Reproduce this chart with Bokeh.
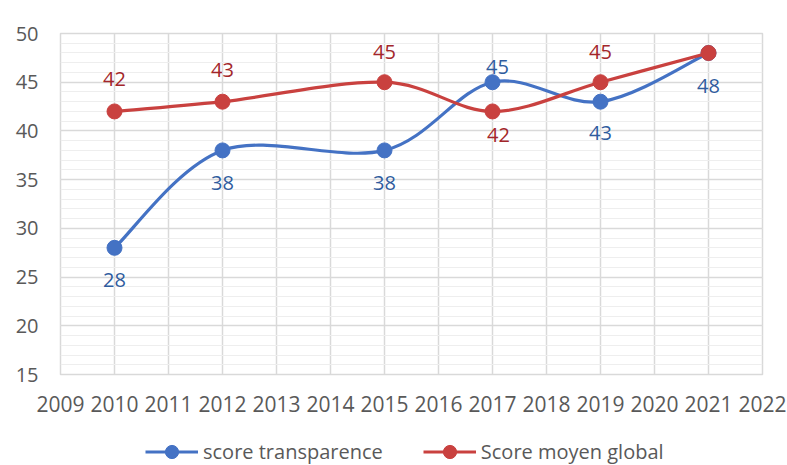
import numpy as np
from bokeh.plotting import figure
from bokeh.layouts import column
from bokeh.models import (ColumnDataSource, Range1d, SingleIntervalTicker, Legend, LegendItem)
from bokeh.core.properties import value
from bokeh.embed import file_html
from bokeh.resources import INLINE

# ---- data ----
years = [2010, 2012, 2015, 2017, 2019, 2021]
score_transparence = [28, 38, 38, 45, 43, 48]
score_moyen_global = [42, 43, 45, 42, 45, 48]
series_names = ["score transparence", "Score moyen global"]

# label placement (screen px, positive = down)
blue_label_dy = [32, 33, 33, -15, 31, 33]
blue_label_dx = [0, 0, 0, 5, 0, 0]
red_label_dy = [-32, -32, -30, 24, -30, -30]
red_label_dx = [0, 0, 0, 6, 0, 0]

FONT = "Open Sans"
AXIS_COL = "#595959"
GRID_COL = "#D9D9D9"
MINOR_COL = "#EEEEEE"
BLUE = "#4472C4"
RED = "#C9413F"
BLUE_TXT = "#2F5C9E"
RED_TXT = "#A3262A"

p = figure(width=787, height=437, output_backend="svg", toolbar_location=None,
           x_range=Range1d(2009, 2022), y_range=Range1d(15, 50),
           min_border_left=60, min_border_right=25, min_border_top=33, min_border_bottom=63)
p.outline_line_color = GRID_COL
p.outline_line_width = 1.5
p.background_fill_color = "white"
p.border_fill_color = "white"

p.xaxis.ticker = SingleIntervalTicker(interval=1, num_minor_ticks=0)
p.yaxis.ticker = SingleIntervalTicker(interval=5, num_minor_ticks=5)
for ax in (p.xaxis, p.yaxis):
    ax.axis_line_color = None
    ax.major_tick_line_color = None
    ax.minor_tick_line_color = None
    ax.major_tick_out = 0
    ax.minor_tick_out = 0
    ax.major_label_text_color = AXIS_COL
    ax.major_label_text_font = FONT
p.xaxis.major_label_text_font_size = "21px"
p.yaxis.major_label_text_font_size = "20px"
p.xaxis.major_label_standoff = 21
p.yaxis.major_label_standoff = 22

p.xgrid.grid_line_color = GRID_COL
p.xgrid.grid_line_width = 1.5
p.ygrid.grid_line_color = GRID_COL
p.ygrid.grid_line_width = 1.5
p.ygrid.minor_grid_line_color = MINOR_COL
p.ygrid.minor_grid_line_width = 1.2


def smooth_segments(xs, ys):
    xs = np.asarray(xs, float)
    ys = np.asarray(ys, float)
    n = len(xs)
    d = dict(x0=[], y0=[], x1=[], y1=[], cx0=[], cy0=[], cx1=[], cy1=[])
    for i in range(n - 1):
        im = max(i - 1, 0)
        ip2 = min(i + 2, n - 1)
        d["x0"].append(xs[i]); d["y0"].append(ys[i])
        d["x1"].append(xs[i + 1]); d["y1"].append(ys[i + 1])
        d["cx0"].append(xs[i] + (xs[i + 1] - xs[im]) / 6)
        d["cy0"].append(ys[i] + (ys[i + 1] - ys[im]) / 6)
        d["cx1"].append(xs[i + 1] - (xs[ip2] - xs[i]) / 6)
        d["cy1"].append(ys[i + 1] - (ys[ip2] - ys[i]) / 6)
    return ColumnDataSource(d)


# legend strip (separate small figure below the chart; its ranges keep the
# proxy renderers out of view so that only the legend is seen)
p2 = figure(width=787, height=28, output_backend="svg", toolbar_location=None,
            x_range=Range1d(0, 1), y_range=Range1d(0, 1),
            x_axis_type=None, y_axis_type=None,
            min_border_left=0, min_border_right=0, min_border_top=0, min_border_bottom=0)
p2.outline_line_color = None
p2.grid.visible = False
p2.background_fill_color = "white"
p2.border_fill_color = "white"

items = []
for vals, col, tcol, dy, dx, name in [
    (score_transparence, BLUE, BLUE_TXT, blue_label_dy, blue_label_dx, series_names[0]),
    (score_moyen_global, RED, RED_TXT, red_label_dy, red_label_dx, series_names[1]),
]:
    seg = smooth_segments(years, vals)
    p.bezier(x0="x0", y0="y0", x1="x1", y1="y1", cx0="cx0", cy0="cy0",
             cx1="cx1", cy1="cy1", source=seg, line_color=col, line_width=3.2)
    src = ColumnDataSource(dict(x=years, y=vals, lab=[str(v) for v in vals], dy=dy, dx=dx))
    p.scatter("x", "y", source=src, size=15, fill_color=col, line_color=col, marker="circle")
    p.text("x", "y", text="lab", source=src, x_offset="dx", y_offset="dy",
           text_align="center", text_baseline="middle", text_color=tcol,
           text_font=value(FONT), text_font_size="20px")
    proxy = ColumnDataSource(dict(x=years, y=vals))
    l_line = p2.line("x", "y", source=proxy, line_color=col, line_width=3.2)
    l_pt = p2.scatter("x", "y", source=proxy, size=15, fill_color=col, line_color=col, marker="circle")
    items.append(LegendItem(label=name, renderers=[l_line, l_pt], index=0))

legend = Legend(items=items, orientation="horizontal", location=(85, -3),
                glyph_width=53, glyph_height=33, label_standoff=5, spacing=40,
                padding=0, margin=0, border_line_color=None, background_fill_alpha=0,
                label_text_font=FONT, label_text_font_size="20px", label_text_color=AXIS_COL)
p2.add_layout(legend)

layout = column(p, p2, spacing=0)
open("out.html", "w").write(file_html(layout, INLINE))
